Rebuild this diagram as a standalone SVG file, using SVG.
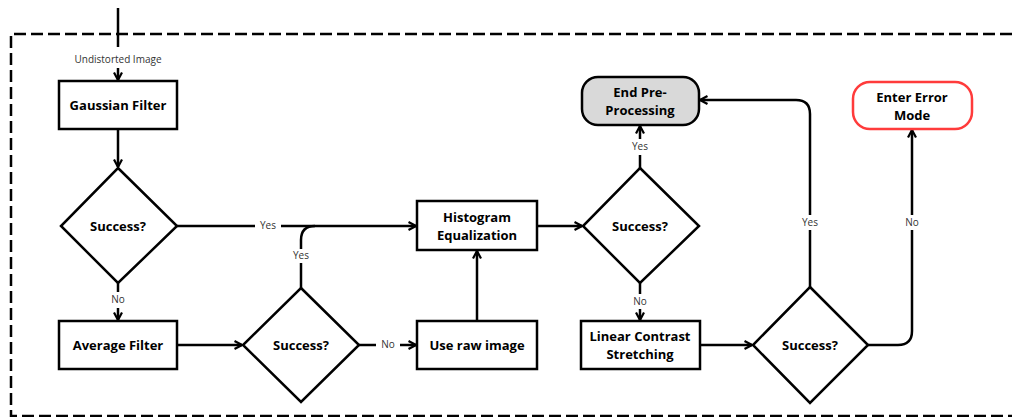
<svg xmlns="http://www.w3.org/2000/svg" width="1012" height="417" viewBox="0 0 1012 417">
  <style>
    .box { fill: #ffffff; stroke: #000000; stroke-width: 2.5; }
    .end { fill: #d9d9d9; stroke: #000000; stroke-width: 2.5; }
    .err { fill: #ffffff; stroke: #ff3b3b; stroke-width: 2.5; }
    .t { font-family: "Open Sans", "Liberation Sans", sans-serif; font-weight: bold; font-size: 13px; fill: #000000; text-anchor: middle; }
    .lbl { font-family: "Open Sans", "Liberation Sans", sans-serif; font-size: 10px; fill: #333333; text-anchor: middle; }
    .edge { fill: none; stroke: #000000; stroke-width: 2.5; }
    .frame { fill: none; stroke: #000000; stroke-width: 2.5; stroke-dasharray: 12 5; }
  </style>
  <defs>
    <marker id="arrow" viewBox="0 0 10 10" refX="8.5" refY="5" markerWidth="4" markerHeight="4" orient="auto" markerUnits="strokeWidth">
      <path d="M1,1 L8.5,5 L1,9" fill="none" stroke="#000000" stroke-width="2.2"/>
    </marker>
  </defs>

  <rect width="1012" height="417" fill="#ffffff"/>

  <!-- dashed container -->
  <path class="frame" d="M1012,34 H11 V416 H1012"/>

  <g id="connectors">
    <!-- entry into the container -->
    <path class="edge" d="M118,8 V47"/>
    <path class="edge" d="M118,68 V80" marker-end="url(#arrow)"/>
    <!-- Gaussian Filter to first check -->
    <path class="edge" d="M118,129 V167" marker-end="url(#arrow)"/>
    <!-- first check: yes -->
    <path class="edge" d="M177,226 H255"/>
    <path class="edge" d="M281,226 H416" marker-end="url(#arrow)"/>
    <!-- first check: no -->
    <path class="edge" d="M118,283 V292"/>
    <path class="edge" d="M118,308 V320" marker-end="url(#arrow)"/>
    <!-- Average Filter to second check -->
    <path class="edge" d="M177,345 H242" marker-end="url(#arrow)"/>
    <!-- second check: yes -->
    <path class="edge" d="M301,288 V263"/>
    <path class="edge" d="M301,249 V240 Q301,226 315,226"/>
    <!-- second check: no -->
    <path class="edge" d="M359,345 H376"/>
    <path class="edge" d="M400,345 H416" marker-end="url(#arrow)"/>
    <!-- raw image up to equalization -->
    <path class="edge" d="M477,321 V251" marker-end="url(#arrow)"/>
    <!-- equalization to third check -->
    <path class="edge" d="M537,226 H582" marker-end="url(#arrow)"/>
    <!-- third check: yes -->
    <path class="edge" d="M640,168 V155"/>
    <path class="edge" d="M640,139 V126" marker-end="url(#arrow)"/>
    <!-- third check: no -->
    <path class="edge" d="M640,283 V294"/>
    <path class="edge" d="M640,309 V320" marker-end="url(#arrow)"/>
    <!-- contrast stretching to fourth check -->
    <path class="edge" d="M700,345 H752" marker-end="url(#arrow)"/>
    <!-- fourth check: yes -->
    <path class="edge" d="M810,287 V230"/>
    <path class="edge" d="M810,215 V114 Q810,100 796,100 H700" marker-end="url(#arrow)"/>
    <!-- fourth check: no -->
    <path class="edge" d="M868,345 H898 Q912,345 912,331 V230"/>
    <path class="edge" d="M912,215 V130" marker-end="url(#arrow)"/>
  </g>

  <g id="labels">
    <text class="lbl" x="118" y="63">Undistorted Image</text>
    <text class="lbl" x="268" y="229">Yes</text>
    <text class="lbl" x="301" y="259">Yes</text>
    <text class="lbl" x="118" y="303">No</text>
    <text class="lbl" x="388" y="348">No</text>
    <text class="lbl" x="640" y="150">Yes</text>
    <text class="lbl" x="640" y="305">No</text>
    <text class="lbl" x="810" y="226">Yes</text>
    <text class="lbl" x="912" y="226">No</text>
  </g>

  <g id="gaussian-filter">
    <rect class="box" x="59" y="81" width="118" height="48"/>
    <text class="t" x="118" y="110">Gaussian Filter</text>
  </g>

  <g id="check-1">
    <path class="box" d="M118,168 L177,226 L118,283 L61,226 Z"/>
    <text class="t" x="118" y="231">Success?</text>
  </g>

  <g id="average-filter">
    <rect class="box" x="59" y="321" width="118" height="48"/>
    <text class="t" x="118" y="350">Average Filter</text>
  </g>

  <g id="check-2">
    <path class="box" d="M301,288 L359,345 L301,402 L243,345 Z"/>
    <text class="t" x="301" y="350">Success?</text>
  </g>

  <g id="use-raw-image">
    <rect class="box" x="417" y="321" width="120" height="48"/>
    <text class="t" x="477" y="350">Use raw image</text>
  </g>

  <g id="histogram-equalization">
    <rect class="box" x="417" y="201" width="120" height="49"/>
    <text class="t" x="477" y="222">Histogram</text>
    <text class="t" x="477" y="240">Equalization</text>
  </g>

  <g id="check-3">
    <path class="box" d="M640,168 L699,226 L640,283 L583,226 Z"/>
    <text class="t" x="640" y="231">Success?</text>
  </g>

  <g id="end-pre-processing">
    <rect class="end" x="582" y="77" width="117" height="48" rx="16"/>
    <text class="t" x="640" y="97">End Pre-</text>
    <text class="t" x="640" y="115">Processing</text>
  </g>

  <g id="linear-contrast-stretching">
    <rect class="box" x="581" y="321" width="119" height="48"/>
    <text class="t" x="640" y="341">Linear Contrast</text>
    <text class="t" x="640" y="359">Stretching</text>
  </g>

  <g id="check-4">
    <path class="box" d="M810,287 L868,345 L810,403 L753,345 Z"/>
    <text class="t" x="810" y="350">Success?</text>
  </g>

  <g id="enter-error-mode">
    <rect class="err" x="853" y="82" width="119" height="47" rx="17"/>
    <text class="t" x="912" y="102">Enter Error</text>
    <text class="t" x="912" y="120">Mode</text>
  </g>
</svg>
